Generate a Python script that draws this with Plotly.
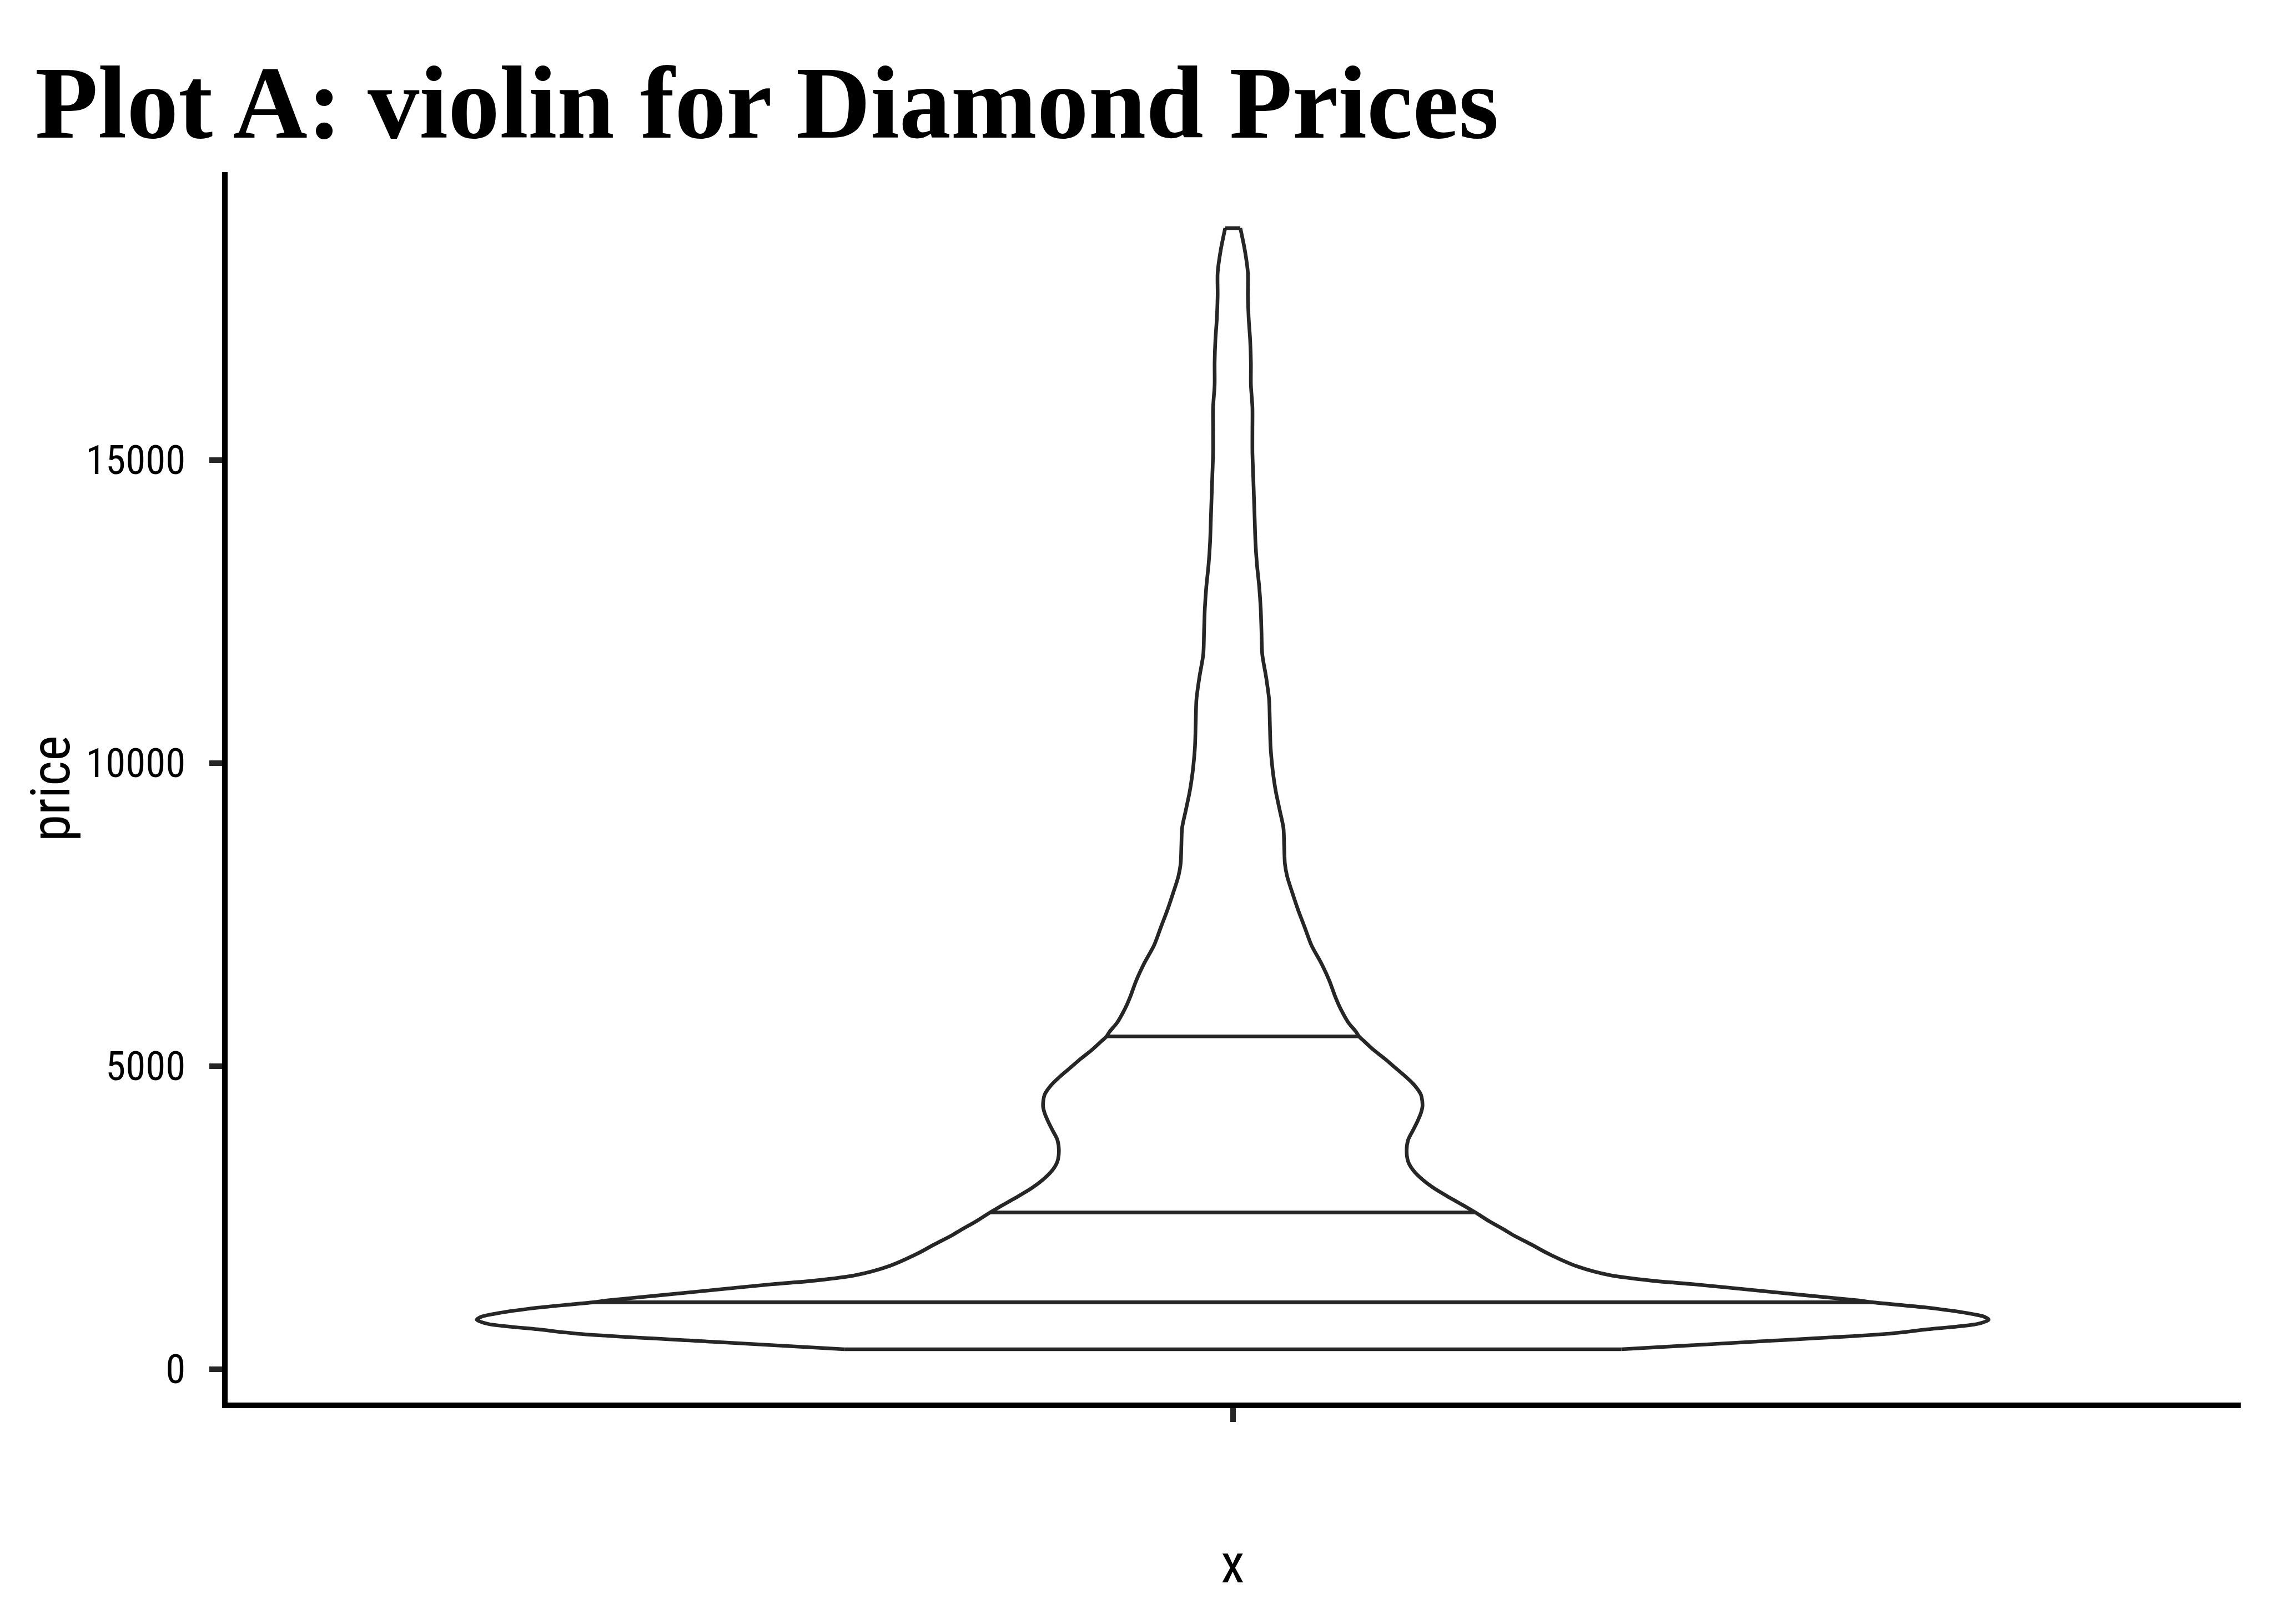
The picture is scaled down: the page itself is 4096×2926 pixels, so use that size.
import plotly.graph_objects as go

# ---- data ----
price = [326, 450, 580, 655, 744, 812, 863, 923, 1012, 1101, 1131, 1220, 1310, 1399,
         1458, 1548, 1696, 1905, 2054, 2202, 2292, 2440, 2583, 2679, 2827, 2976, 3125, 3274,
         3423, 3601, 3780, 3929, 4077, 4226, 4345, 4524, 4673, 4821, 4970, 5119, 5268, 5417,
         5488, 5565, 5714, 5863, 6012, 6161, 6399, 6696, 6994, 7292, 7589, 7887, 8125, 8333,
         8631, 8929, 9226, 9524, 9762, 9970, 10268, 10682, 11053, 11423, 11793, 12163, 12533,
         12904, 13273, 13644, 14014, 14384, 14754, 15124, 15495, 15865, 16235, 16605, 16975,
         17346, 17716, 18086, 18456, 18823]
# relative violin half-width (1 = widest point)
density = [0.514, 0.688, 0.865, 0.919, 0.985, 1.000, 0.994, 0.971, 0.919, 0.846,
           0.828, 0.755, 0.682, 0.609, 0.554, 0.499, 0.455, 0.417, 0.395, 0.372, 0.360,
           0.339, 0.321, 0.308, 0.287, 0.267, 0.251, 0.239, 0.232, 0.230, 0.232, 0.238,
           0.244, 0.249, 0.251, 0.249, 0.241, 0.229, 0.215, 0.201, 0.186, 0.173, 0.167,
           0.163, 0.153, 0.146, 0.140, 0.135, 0.128, 0.117, 0.104, 0.095, 0.086, 0.078,
           0.072, 0.069, 0.068, 0.067, 0.062, 0.057, 0.054, 0.052, 0.050, 0.049, 0.048,
           0.044, 0.039, 0.038, 0.037, 0.035, 0.032, 0.030, 0.029, 0.028, 0.027, 0.026,
           0.026, 0.026, 0.024, 0.024, 0.023, 0.021, 0.020, 0.020, 0.016, 0.010]
quantile_price = [1101, 2583, 5488]
quantile_density = [0.846, 0.321, 0.167]
y_ticks = [0, 5000, 10000, 15000]
y_tick_labels = ["0", "5000", "10000", "15000"]
title_text = "Plot A: violin for Diamond Prices"
x_title = "x"
y_title = "price"

# ---- styling ----
W, H = 4096, 2926
ML, MR, MT, MB = 405, 60, 310, 394
PW, PH = W - ML - MR, H - MT - MB
center = 1.0
max_half = 0.45
line_col = "#262626"
lw = 6.6
axis_lw = 10
sans = "Roboto Condensed, Liberation Sans Narrow, DejaVu Sans Condensed, Roboto, sans-serif"

right_x = [center + max_half * d for d in density]
left_x = [center - max_half * d for d in density]

fig = go.Figure()
line = dict(color=line_col, width=lw)
for xs in (right_x, left_x):
    fig.add_trace(go.Scatter(x=xs, y=price, mode="lines",
                             line=dict(line, shape="spline", smoothing=0.8),
                             hoverinfo="skip", showlegend=False))
# trimmed bottom and top caps
for i in (0, -1):
    fig.add_trace(go.Scatter(x=[left_x[i], right_x[i]], y=[price[i], price[i]], mode="lines",
                             line=line, hoverinfo="skip", showlegend=False))
# quantile lines
for qp, qd in zip(quantile_price, quantile_density):
    fig.add_trace(go.Scatter(x=[center - max_half * qd, center + max_half * qd], y=[qp, qp],
                             mode="lines", line=line, hoverinfo="skip", showlegend=False))

ymin, ymax = min(price), max(price)
pad = (ymax - ymin) * 0.05

# axis lines centred on the panel edges
half_px_x = (axis_lw / 2) / PW
half_px_y = (axis_lw / 2) / PH
shapes = [
    dict(type="line", xref="paper", yref="paper", x0=0, x1=0, y0=-half_px_y, y1=1,
         line=dict(color="black", width=axis_lw)),
    dict(type="line", xref="paper", yref="paper", x0=-half_px_x, x1=1, y0=0, y1=0,
         line=dict(color="black", width=axis_lw)),
]

F_title_ax = 97.5
annotations = [
    dict(text=y_title, xref="paper", yref="paper", x=(92 - ML) / PW, y=0.5,
         xanchor="center", yanchor="middle", textangle=-90, showarrow=False,
         font=dict(family=sans, size=F_title_ax, color="black")),
    dict(text=x_title, xref="paper", yref="paper", x=0.5, y=-(2818 - (H - MB)) / PH,
         xanchor="center", yanchor="middle", showarrow=False,
         font=dict(family=sans, size=F_title_ax, color="black")),
]

fig.update_layout(
    width=W, height=H,
    paper_bgcolor="white", plot_bgcolor="white",
    margin=dict(l=ML, r=MR, t=MT, b=MB, autoexpand=False),
    title=dict(text=title_text, x=63 / W, xanchor="left", xref="container",
               y=1 - 248 / H, yanchor="bottom", yref="container",
               font=dict(family="Liberation Serif, DejaVu Serif, serif", size=186,
                         color="black", weight="bold")),
    xaxis=dict(range=[0.4, 1.6], showgrid=False, zeroline=False, showline=False,
               tickvals=[center], ticktext=[""], ticks="outside", ticklen=29,
               tickwidth=10, tickcolor=line_col, automargin=False, fixedrange=True),
    yaxis=dict(range=[ymin - pad, ymax + pad], showgrid=False, zeroline=False, showline=False,
               tickvals=y_ticks, ticktext=y_tick_labels,
               ticks="outside", ticklen=27, tickwidth=10, tickcolor=line_col,
               tickfont=dict(family=sans, size=73, color="black"), ticklabelstandoff=28,
               automargin=False, fixedrange=True),
    shapes=shapes,
    annotations=annotations,
)

fig.write_html("out.html")
